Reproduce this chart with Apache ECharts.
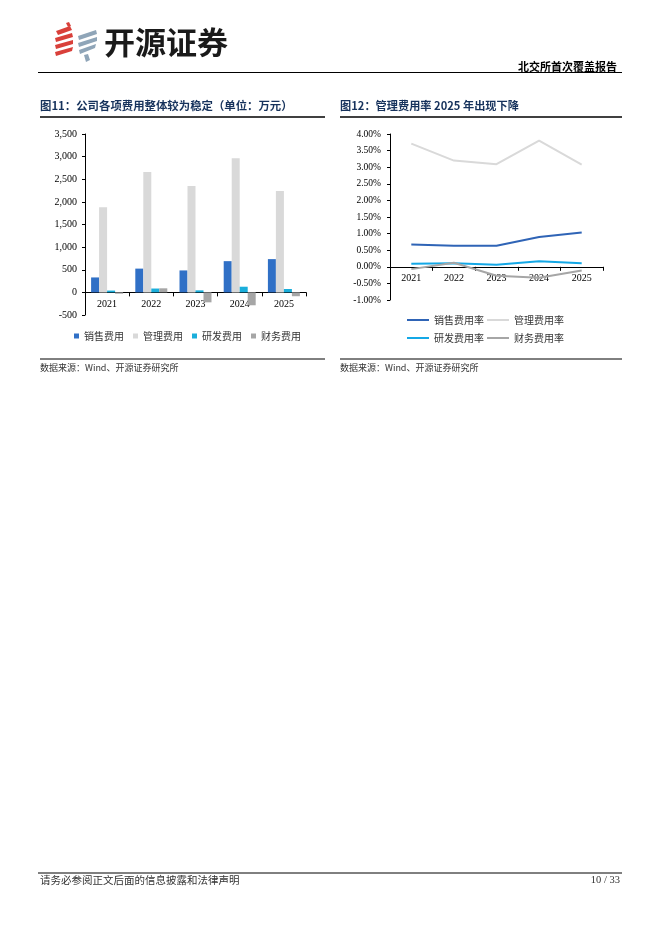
<!DOCTYPE html>
<html><head><meta charset="utf-8">
<script src="https://cdn.jsdelivr.net/npm/echarts@6/dist/echarts.min.js"></script>
<style>html,body{margin:0;padding:0;background:#fff;}#c{width:662px;height:936px;}</style>
</head><body><div id="c"></div>
<script>
var years = ['2021','2022','2023','2024','2025'];
// Figure 11 (unit: 10k CNY)
var salesExp = [330, 525, 485, 690, 735];
var mgmtExp = [1880, 2660, 2350, 2965, 2240];
var rdExp = [40, 85, 45, 125, 75];
var finExp = [-30, 90, -220, -285, -85];
// Figure 12 (%)
var salesRate = [0.675, 0.635, 0.635, 0.90, 1.03];
var mgmtRate = [3.71, 3.20, 3.09, 3.80, 3.08];
var rdRate = [0.09, 0.11, 0.06, 0.17, 0.11];
var finRate = [-0.07, 0.12, -0.27, -0.33, -0.11];

var cSales = '#3070C6', cMgmt = '#D9D9D9', cRd = '#1AAEDB', cFin = '#A6A6A6';
var cSalesL = '#2F64B6', cMgmtL = '#D9D9D9', cRdL = '#14A8E6', cFinL = '#A6A6A6';
var serif = '"Liberation Serif","Times New Roman",serif';
var cjk = '"Noto Sans CJK SC",sans-serif';
var navy = '#16325C';

var chart = echarts.init(document.getElementById('c'));
function txt(x,y,s,o){o=o||{};return {type:'text',x:x,y:y,style:{text:s,font:(o.w||'normal')+' '+(o.size||10)+'px '+(o.f||cjk),fill:o.c||'#333',align:o.a||'left',verticalAlign:'top'}};}
function line(x1,y1,x2,y2,w,c){return {type:'line',shape:{x1:x1,y1:y1,x2:x2,y2:y2},style:{stroke:c||'#000',lineWidth:w||1}};}
function poly(pts,c){return {type:'polygon',shape:{points:pts.map(function(p){return [p[0],p[1]+4];})},style:{fill:c}};}

var red='#D9403A', gb='#8FA5B8';
var graphics = [
  // logo red
  poly([[56,27],[70,22],[72,26],[58,31]],red),
  poly([[55,34],[72,29],[73,33],[56,38]],red),
  poly([[55,41],[73,36],[73,40],[56,45]],red),
  poly([[55,48],[73,43],[72,47],[56,52]],red),
  poly([[66,19],[69,18],[71,22],[68,23]],red),
  // logo gray-blue
  poly([[78,32],[96,26],[97,30],[79,36]],gb),
  poly([[78,39],[97,33],[97,37],[79,43]],gb),
  poly([[79,46],[96,40],[95,44],[80,50]],gb),
  poly([[84,51],[88,50],[90,56],[86,58]],gb),
  txt(104,27,'开源证券',{w:'bold',size:31,c:'#1a1a1a'}),
  txt(617,61,'北交所首次覆盖报告',{w:'bold',size:11,c:'#000',a:'right'}),
  line(38,72.5,622,72.5,1,'#000'),
  txt(40,100,'图11：公司各项费用整体较为稳定（单位：万元）',{w:'bold',size:11.4,c:navy}),
  txt(340,100,'图12：管理费用率 2025 年出现下降',{w:'bold',size:11.2,c:navy}),
  line(40,117,325,117,1.3,'#000'),
  line(340,117,622,117,1.3,'#000'),
  line(40,359,325,359,1,'#000'),
  line(340,359,622,359,1,'#000'),
  txt(40,363,'数据来源：Wind、开源证券研究所',{size:9,c:'#333'}),
  txt(340,363,'数据来源：Wind、开源证券研究所',{size:9,c:'#333'}),
  line(38,873,622,873,1,'#000'),
  txt(40,875,'请务必参阅正文后面的信息披露和法律声明',{size:10.5,c:'#333'}),
  txt(620,875,'10 / 33',{size:10.5,c:'#333',a:'right',f:serif})
];

var axisLineBlack = {show:true,onZero:true,lineStyle:{color:'#000',width:1}};
var tickBlack = {show:true,length:4,lineStyle:{color:'#000'}};
var legendText = {fontFamily:cjk,fontSize:10,color:'#333'};
var option = {
  animation:false,
  backgroundColor:'#fff',
  graphic: graphics,
  grid:[
    {left:85, top:134, width:221, height:181, containLabel:false},
    {left:390, top:134, width:213, height:166, containLabel:false}
  ],
  legend:[
    {data:['销售费用','管理费用','研发费用','财务费用'], left:74, top:331, padding:0, icon:'rect', itemWidth:5, itemHeight:5, itemGap:9, textStyle:legendText},
    {data:['销售费用率','管理费用率'], left:407, top:315, padding:0, icon:'rect', itemWidth:22, itemHeight:2, itemGap:3, textStyle:legendText},
    {data:['研发费用率','财务费用率'], left:407, top:333, padding:0, icon:'rect', itemWidth:22, itemHeight:2, itemGap:3, textStyle:legendText}
  ],
  xAxis:[
    {type:'category', gridIndex:0, data:years, axisLine:axisLineBlack, axisTick:tickBlack, axisLabel:{show:false}},
    {type:'category', gridIndex:1, data:years, axisLine:axisLineBlack, axisTick:tickBlack, axisLabel:{show:false}},
    {type:'category', gridIndex:0, data:years, position:'bottom', offset:-22.6, axisLine:{show:false,onZero:false}, axisTick:{show:false},
     axisLabel:{fontFamily:serif,fontSize:10,color:'#000',margin:7}},
    {type:'category', gridIndex:1, data:years, position:'bottom', offset:-33.3, axisLine:{show:false,onZero:false}, axisTick:{show:false},
     axisLabel:{fontFamily:serif,fontSize:10,color:'#000',margin:7}}
  ],
  yAxis:[
    {type:'value', gridIndex:0, min:-500, max:3500, interval:500, axisLine:{show:true,lineStyle:{color:'#000'}},
     axisTick:{show:true,length:3,lineStyle:{color:'#000'}}, splitLine:{show:false},
     axisLabel:{fontFamily:serif,fontSize:10,color:'#000',margin:8,formatter:function(v){return v.toLocaleString('en-US');}}},
    {type:'value', gridIndex:1, min:-1, max:4, interval:0.5, axisLine:{show:true,lineStyle:{color:'#000'}},
     axisTick:{show:true,length:3,lineStyle:{color:'#000'}}, splitLine:{show:false},
     axisLabel:{fontFamily:serif,fontSize:9.5,color:'#000',margin:9,formatter:function(v){return v.toFixed(2)+'%';}}}
  ],
  series:[
    {name:'销售费用',type:'bar',xAxisIndex:0,yAxisIndex:0,data:salesExp,barWidth:8,barGap:'0%',itemStyle:{color:cSales}},
    {name:'管理费用',type:'bar',xAxisIndex:0,yAxisIndex:0,data:mgmtExp,barWidth:8,barGap:'0%',itemStyle:{color:cMgmt}},
    {name:'研发费用',type:'bar',xAxisIndex:0,yAxisIndex:0,data:rdExp,barWidth:8,barGap:'0%',itemStyle:{color:cRd}},
    {name:'财务费用',type:'bar',xAxisIndex:0,yAxisIndex:0,data:finExp,barWidth:8,barGap:'0%',itemStyle:{color:cFin}},
    {name:'销售费用率',type:'line',xAxisIndex:1,yAxisIndex:1,data:salesRate,showSymbol:false,symbol:'none',lineStyle:{color:cSalesL,width:2},itemStyle:{color:cSalesL}},
    {name:'管理费用率',type:'line',xAxisIndex:1,yAxisIndex:1,data:mgmtRate,showSymbol:false,symbol:'none',lineStyle:{color:cMgmtL,width:2},itemStyle:{color:cMgmtL}},
    {name:'研发费用率',type:'line',xAxisIndex:1,yAxisIndex:1,data:rdRate,showSymbol:false,symbol:'none',lineStyle:{color:cRdL,width:2},itemStyle:{color:cRdL}},
    {name:'财务费用率',type:'line',xAxisIndex:1,yAxisIndex:1,data:finRate,showSymbol:false,symbol:'none',lineStyle:{color:cFinL,width:2},itemStyle:{color:cFinL}}
  ]
};
chart.setOption(option);
</script></body></html>
